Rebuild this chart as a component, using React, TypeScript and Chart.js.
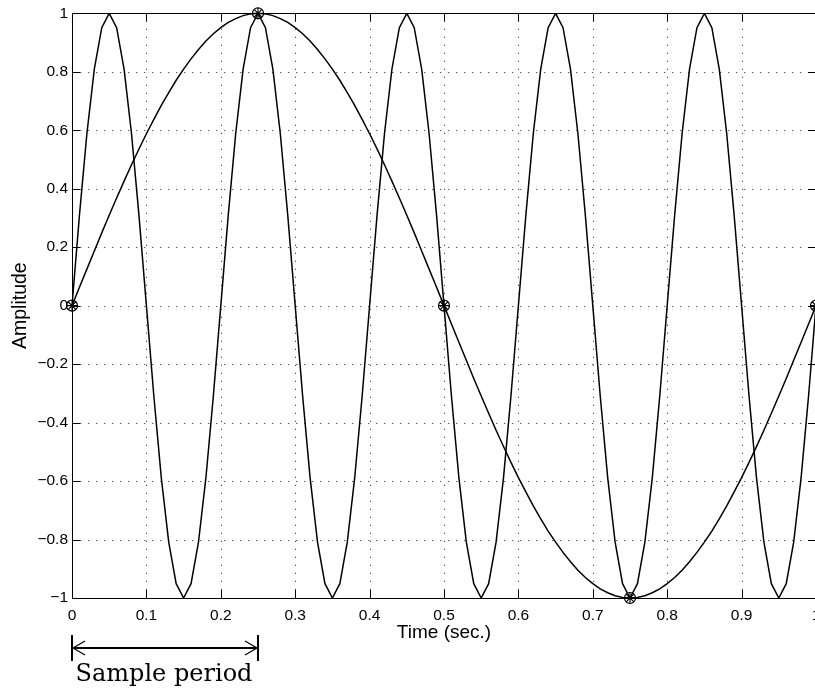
import React, { useEffect, useRef } from "react";
import { Chart, registerables } from "chart.js";

Chart.register(...registerables);

// ---- data ----
const time = [
  0, 0.01, 0.02, 0.03, 0.04, 0.05, 0.06, 0.07, 0.08, 0.09,
  0.1, 0.11, 0.12, 0.13, 0.14, 0.15, 0.16, 0.17, 0.18, 0.19,
  0.2, 0.21, 0.22, 0.23, 0.24, 0.25, 0.26, 0.27, 0.28, 0.29,
  0.3, 0.31, 0.32, 0.33, 0.34, 0.35, 0.36, 0.37, 0.38, 0.39,
  0.4, 0.41, 0.42, 0.43, 0.44, 0.45, 0.46, 0.47, 0.48, 0.49,
  0.5, 0.51, 0.52, 0.53, 0.54, 0.55, 0.56, 0.57, 0.58, 0.59,
  0.6, 0.61, 0.62, 0.63, 0.64, 0.65, 0.66, 0.67, 0.68, 0.69,
  0.7, 0.71, 0.72, 0.73, 0.74, 0.75, 0.76, 0.77, 0.78, 0.79,
  0.8, 0.81, 0.82, 0.83, 0.84, 0.85, 0.86, 0.87, 0.88, 0.89,
  0.9, 0.91, 0.92, 0.93, 0.94, 0.95, 0.96, 0.97, 0.98, 0.99,
  1,
];

const fastWave = [
  0, 0.309, 0.588, 0.809, 0.951, 1, 0.951, 0.809, 0.588, 0.309,
  0, -0.309, -0.588, -0.809, -0.951, -1, -0.951, -0.809, -0.588, -0.309,
  0, 0.309, 0.588, 0.809, 0.951, 1, 0.951, 0.809, 0.588, 0.309,
  0, -0.309, -0.588, -0.809, -0.951, -1, -0.951, -0.809, -0.588, -0.309,
  0, 0.309, 0.588, 0.809, 0.951, 1, 0.951, 0.809, 0.588, 0.309,
  0, -0.309, -0.588, -0.809, -0.951, -1, -0.951, -0.809, -0.588, -0.309,
  0, 0.309, 0.588, 0.809, 0.951, 1, 0.951, 0.809, 0.588, 0.309,
  0, -0.309, -0.588, -0.809, -0.951, -1, -0.951, -0.809, -0.588, -0.309,
  0, 0.309, 0.588, 0.809, 0.951, 1, 0.951, 0.809, 0.588, 0.309,
  0, -0.309, -0.588, -0.809, -0.951, -1, -0.951, -0.809, -0.588, -0.309,
  0,
];

const slowWave = [
  0, 0.063, 0.125, 0.187, 0.249, 0.309, 0.368, 0.426, 0.482, 0.536,
  0.588, 0.637, 0.685, 0.729, 0.771, 0.809, 0.844, 0.876, 0.905, 0.93,
  0.951, 0.969, 0.982, 0.992, 0.998, 1, 0.998, 0.992, 0.982, 0.969,
  0.951, 0.93, 0.905, 0.876, 0.844, 0.809, 0.771, 0.729, 0.685, 0.637,
  0.588, 0.536, 0.482, 0.426, 0.368, 0.309, 0.249, 0.187, 0.125, 0.063,
  0, -0.063, -0.125, -0.187, -0.249, -0.309, -0.368, -0.426, -0.482, -0.536,
  -0.588, -0.637, -0.685, -0.729, -0.771, -0.809, -0.844, -0.876, -0.905, -0.93,
  -0.951, -0.969, -0.982, -0.992, -0.998, -1, -0.998, -0.992, -0.982, -0.969,
  -0.951, -0.93, -0.905, -0.876, -0.844, -0.809, -0.771, -0.729, -0.685, -0.637,
  -0.588, -0.536, -0.482, -0.426, -0.368, -0.309, -0.249, -0.187, -0.125, -0.063,
  0,
];

const sampleTimes = [0, 0.25, 0.5, 0.75, 1];
const sampleValues = [0, 1, 0, -1, 0];

const xTitle = "Time (sec.)";
const yTitle = "Amplitude";
const annotationText = "Sample period";
const annotationStart = 0;
const annotationEnd = 0.25;

// ---- helpers ----
const fmt = (v: number) => {
  const r = Math.round(v * 10) / 10;
  if (Math.abs(r) < 1e-9) return "0";
  return (r < 0 ? "\u2212" : "") + String(Math.abs(r));
};

const zip = (xs: number[], ys: number[]) => xs.map((x, i) => ({ x, y: ys[i] }));

const FONT = "'Liberation Sans', Arial, Helvetica, sans-serif";

const matlabAxes = {
  id: "matlabAxes",
  beforeDatasetsDraw(chart: any) {
    const { ctx, chartArea, scales } = chart;
    const { left, right, top, bottom } = chartArea;
    const xs = scales.x;
    const ys = scales.y;
    ctx.save();
    ctx.strokeStyle = "#555";
    ctx.lineWidth = 1;
    ctx.setLineDash([1.3, 6.7]);
    xs.ticks.forEach((t: any) => {
      const p = Math.round(xs.getPixelForValue(t.value)) + 0.5;
      if (p <= left + 1 || p >= right - 1) return;
      ctx.beginPath();
      ctx.moveTo(p, bottom);
      ctx.lineTo(p, top);
      ctx.stroke();
    });
    ys.ticks.forEach((t: any) => {
      const p = Math.round(ys.getPixelForValue(t.value)) + 0.5;
      if (p <= top + 1 || p >= bottom - 1) return;
      ctx.beginPath();
      ctx.moveTo(left, p);
      ctx.lineTo(right, p);
      ctx.stroke();
    });
    ctx.restore();
  },
  afterDatasetsDraw(chart: any) {
    const { ctx, chartArea, scales } = chart;
    const { left, right, top, bottom } = chartArea;
    const xs = scales.x;
    const ys = scales.y;
    const tl = 8;
    ctx.save();
    ctx.strokeStyle = "#000";
    ctx.lineWidth = 1;
    ctx.setLineDash([]);
    ctx.strokeRect(Math.round(left) + 0.5, Math.round(top) + 0.5, Math.round(right - left), Math.round(bottom - top));
    ctx.beginPath();
    xs.ticks.forEach((t: any) => {
      const p = Math.round(xs.getPixelForValue(t.value)) + 0.5;
      ctx.moveTo(p, bottom);
      ctx.lineTo(p, bottom - tl);
      ctx.moveTo(p, top);
      ctx.lineTo(p, top + tl);
    });
    ys.ticks.forEach((t: any) => {
      const p = Math.round(ys.getPixelForValue(t.value)) + 0.5;
      ctx.moveTo(left, p);
      ctx.lineTo(left + tl, p);
      ctx.moveTo(right, p);
      ctx.lineTo(right - tl, p);
    });
    ctx.stroke();
    ctx.restore();
  },
  afterDraw(chart: any) {
    const { ctx, scales } = chart;
    const xs = scales.x;
    const x0 = Math.round(xs.getPixelForValue(annotationStart));
    const x1 = Math.round(xs.getPixelForValue(annotationEnd));
    const yLine = 648;
    ctx.save();
    ctx.strokeStyle = "#000";
    ctx.setLineDash([]);
    // end bars and span line
    ctx.lineWidth = 2;
    ctx.beginPath();
    ctx.moveTo(x0, 635);
    ctx.lineTo(x0, 661);
    ctx.moveTo(x1, 635);
    ctx.lineTo(x1, 661);
    ctx.moveTo(x0, yLine);
    ctx.lineTo(x1, yLine);
    ctx.stroke();
    // arrow heads
    ctx.lineWidth = 1.2;
    ctx.beginPath();
    ctx.moveTo(x0 + 13, yLine - 7);
    ctx.lineTo(x0 + 1, yLine);
    ctx.lineTo(x0 + 13, yLine + 7);
    ctx.moveTo(x1 - 13, yLine - 7);
    ctx.lineTo(x1 - 1, yLine);
    ctx.lineTo(x1 - 13, yLine + 7);
    ctx.stroke();
    // text
    ctx.fillStyle = "#000";
    ctx.font = "24px 'DejaVu Serif', 'Liberation Serif', serif";
    ctx.textAlign = "center";
    ctx.textBaseline = "alphabetic";
    ctx.fillText(annotationText, (x0 + x1) / 2 - 1, 681);
    ctx.restore();
  },
};

export default function App() {
  const ref = useRef<HTMLCanvasElement | null>(null);

  useEffect(() => {
    if (!ref.current) return;
    const chart = new Chart(ref.current, {
      type: "line",
      data: {
        datasets: [
          {
            data: zip(sampleTimes, sampleValues),
            showLine: false,
            pointStyle: "star",
            pointRadius: 5.5,
            pointBorderWidth: 1.1,
            pointBorderColor: "#000",
            pointBackgroundColor: "rgba(0,0,0,0)",
            clip: false,
          } as any,
          {
            data: zip(sampleTimes, sampleValues),
            showLine: false,
            pointStyle: "circle",
            pointRadius: 5.5,
            pointBorderWidth: 1.2,
            pointBorderColor: "#000",
            pointBackgroundColor: "rgba(0,0,0,0)",
            clip: false,
          } as any,
          {
            data: zip(time, slowWave),
            borderColor: "#000",
            borderWidth: 1.5,
            pointRadius: 0,
            tension: 0,
          },
          {
            data: zip(time, fastWave),
            borderColor: "#000",
            borderWidth: 1.5,
            pointRadius: 0,
            tension: 0,
          },
        ],
      },
      options: {
        animation: false,
        responsive: false,
        devicePixelRatio: 1,
        layout: { padding: { top: 12, right: 24, left: 0, bottom: 0 } },
        plugins: { legend: { display: false }, tooltip: { enabled: false } },
        events: [],
        scales: {
          x: {
            type: "linear",
            min: 0,
            max: 1,
            grid: { display: false, drawTicks: false },
            border: { display: false },
            ticks: {
              stepSize: 0.1,
              padding: 8,
              color: "#000",
              font: { family: FONT, size: 15.5 },
              callback: (v: any) => fmt(Number(v)),
              maxRotation: 0,
              autoSkip: false,
            },
            title: {
              display: true,
              text: xTitle,
              color: "#000",
              font: { family: FONT, size: 19 },
              padding: { top: 0, bottom: 50 },
            },
            afterFit: (s: any) => {
              s.height = 96;
            },
          },
          y: {
            type: "linear",
            min: -1,
            max: 1,
            grid: { display: false, drawTicks: false },
            border: { display: false },
            ticks: {
              stepSize: 0.2,
              padding: 4,
              color: "#000",
              font: { family: FONT, size: 15.5 },
              callback: (v: any) => fmt(Number(v)),
              autoSkip: false,
            },
            title: {
              display: true,
              text: yTitle,
              color: "#000",
              font: { family: FONT, size: 19.5 },
              padding: { top: 9, bottom: 0 },
            },
            afterFit: (s: any) => {
              s.width = 72;
            },
          },
        },
      },
      plugins: [matlabAxes],
    } as any);
    return () => chart.destroy();
  }, []);

  return (
    <div
      style={{
        position: "fixed",
        left: 0,
        top: 0,
        width: 815,
        height: 694,
        overflow: "hidden",
        background: "#fff",
      }}
    >
      <canvas ref={ref} width={840} height={694} style={{ display: "block", width: 840, height: 694 }} />
    </div>
  );
}
